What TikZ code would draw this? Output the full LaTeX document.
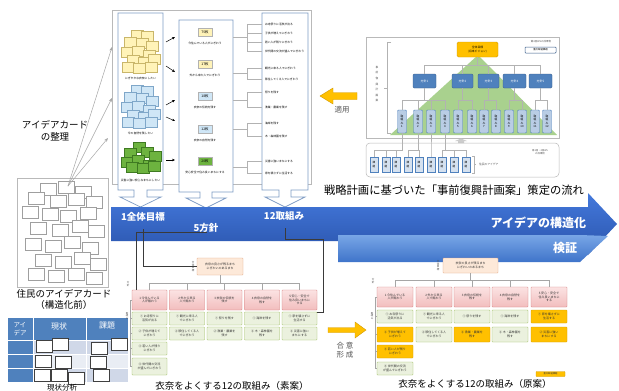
\documentclass[tikz,border=0pt]{standalone}
\usepackage{fontspec}
\setmainfont{Noto Sans CJK JP}
\usetikzlibrary{arrows.meta,calc}
\newcommand\fsz[2]{\fontsize{#1}{#2}\selectfont}
\definecolor{cBandT}{HTML}{4479DC}
\definecolor{cBandB}{HTML}{2A54AC}
\definecolor{cKenT}{HTML}{78A6E6}
\definecolor{cKenB}{HTML}{3F74CA}
\definecolor{cCol}{HTML}{7F9CC4}
\definecolor{cY}{HTML}{FFF3B8}
\definecolor{cYb}{HTML}{C9B66A}
\definecolor{cB}{HTML}{CFE6F6}
\definecolor{cBb}{HTML}{7FA7C9}
\definecolor{cG}{HTML}{6DB33F}
\definecolor{cGb}{HTML}{3F7A22}
\definecolor{cGold}{HTML}{FFC000}
\definecolor{cGoldb}{HTML}{D39B00}
\definecolor{cHbl}{HTML}{4F81BD}
\definecolor{cHblb}{HTML}{385D8A}
\definecolor{cTk}{HTML}{B9CDE5}
\definecolor{cPyr}{HTML}{A9D18E}
\definecolor{cPeach}{HTML}{FDE9D9}
\definecolor{cPeachb}{HTML}{E2A47E}
\definecolor{cPinkL}{HTML}{FBE3E3}
\definecolor{cPink}{HTML}{F2BDBD}
\definecolor{cPinkb}{HTML}{D47C7C}
\definecolor{cLg}{HTML}{EBF1DE}
\definecolor{cLgb}{HTML}{9BBB59}
\definecolor{cRowA}{HTML}{D0D8E8}
\definecolor{cRowB}{HTML}{E9EDF4}
\definecolor{cTxt}{HTML}{555555}
\definecolor{cLine}{HTML}{3A3A3A}
\tikzset{
  pframe/.style={draw=gray!55,line width=0.5pt},
  colbox/.style={draw=cCol,line width=0.7pt,fill=white},
  cardy/.style={fill=cY,draw=cYb,line width=0.3pt},
  cardb/.style={fill=cB,draw=cBb,line width=0.3pt},
  cardg/.style={fill=cG,draw=cGb,line width=0.3pt},
  wcard/.style={fill=white,draw=gray!75,line width=0.4pt},
  tcard/.style={fill=white,draw=black!75,line width=0.45pt},
  tinytext/.style={font=\fsz{2.8}{3.4},align=center},
  tl/.style={draw=gray!60,line width=0.4pt},
  conn/.style={draw=gray!70,line width=0.4pt},
  dline/.style={draw=cLine,line width=0.5pt},
  cntbox/.style={draw=gray!60,line width=0.3pt,minimum width=14pt,minimum height=8.5pt,font=\fsz{3.4}{4}},
  sbase/.style={line width=0.4pt,font=\fsz{3}{3.7},align=center,rounded corners=0.6pt,text=black!80},
  pinkbox/.style={sbase,draw=cPinkb,top color=cPinkL,bottom color=cPink,minimum height=20pt},
  grnbox/.style={sbase,draw=cLgb,fill=cLg},
  orgbox/.style={sbase,draw=cGoldb,fill=cGold},
  topbox/.style={sbase,draw=cPeachb,fill=cPeach},
  hkbox/.style={draw=cHblb,fill=cHbl,rounded corners=1.2pt,line width=0.4pt,text=white,font=\fsz{3}{3.6},minimum height=14pt},
  tkbox/.style={draw=cHbl,fill=cTk,rounded corners=1pt,line width=0.4pt,font=\fsz{2.8}{3.4},align=center,minimum width=9pt,minimum height=23pt},
  kdbox/.style={draw=cHbl,fill=cTk!60,line width=0.3pt,font=\fsz{2.6}{3.2},align=center,minimum width=8pt,minimum height=15pt},
  vlab/.style={font=\fsz{2.5}{2.9},align=center,text=cTxt},
  captext/.style={font=\fsz{9.5}{11.5},align=center},
  bantext/.style={font=\fsz{9.5}{11}\bfseries,text=white},
  garrow/.style={draw=gray!70,line width=0.5pt,-{Stealth[length=4pt,width=3pt]}},
  karrow/.style={draw=black,line width=0.5pt,-{Stealth[length=3pt,width=2.6pt]}},
  oarrow/.style={fill=cGold,draw=cGoldb,line width=0.4pt},
}
\begin{document}
\begin{tikzpicture}[x=1pt,y=-1pt,every node/.style={inner sep=0pt,outer sep=0pt}]
\useasboundingbox (0,0) rectangle (619,391);
\fill[white] (0,0) rectangle (619,391);

%% ================= top-left panel
\draw[pframe] (112,10) rectangle (311,184);
\draw[colbox] (118,13) -- (163,13) -- (163,190) -- (147,190) -- (147,197) -- (161,197) -- (140.5,207) -- (120,197) -- (134,197) -- (134,190) -- (118,190) -- cycle;
\draw[colbox] (179,20) -- (233,20) -- (233,192) -- (212,192) -- (212,198) -- (226,198) -- (206,208) -- (186,198) -- (200,198) -- (200,192) -- (179,192) -- cycle;
\draw[colbox] (262,13) -- (308,13) -- (308,190) -- (291,190) -- (291,197) -- (305,197) -- (285,207) -- (265,197) -- (279,197) -- (279,190) -- (262,190) -- cycle;

\foreach \x/\y in {131/30,141/31,124/37,136/38,146/41,121/47,132/46,143/50,127/55,138/57,148/54,122/62,133/63,145/62}
  \draw[cardy] (\x,\y) rectangle ++(12,10);
\foreach \x/\y in {131/30,141/31,124/37,136/38,146/41,121/47,132/46,143/50,127/55,138/57,148/54,122/62,133/63,145/62}
  \draw[cardb] (\x,\y+55) rectangle ++(12,10);
\foreach \x/\y in {133/142,124/148,141/147,149/151,121/157,132/155,143/160,126/162,137/163,148/161}
  \draw[cardg] (\x,\y) rectangle ++(12,10);
\node[tinytext] (c1a) at (140.5,78) {にぎやかな衣奈にしたい};
\node[tinytext] (c1b) at (140.5,133) {今の自然を残したい};
\node[tinytext] (c1c) at (140.5,180) {災害に強い安心なまちにしたい};

\foreach \n/\y/\c/\t/\s in {1/32/cY/75枚/今住んでいる人がにぎわう,2/64/cY/17枚/外から来た人でにぎわう,3/96/cB/18枚/衣奈の伝統を残す,4/129/cB/12枚/衣奈の自然を残す,5/161/cG/20枚/安心安全で住み良いまちにする}{
  \node[cntbox,fill=\c] (n\n) at (205,\y) {\t};
  \node[tinytext] (ns\n) at (205,\y+11) {\s};
}
\foreach \a/\b/\c/\d in {166/42/175/37,166/66/175/72,166/105/175/100,166/117/175/121,166/160/175/160}
  \draw[karrow] (\a,\b) -- (\c,\d);

\foreach \n/\y/\t in {1/24/お寺祭りに活気が出る,2/33/子供が増えてにぎわう,3/42/若い人が残りにぎわう,4/51/世代間の交流が盛んでにぎわう,5/68/観光に来る人でにぎわう,6/79/移住してくる人でにぎわう,7/92/祭りを残す,8/107/漁業・農業を残す,9/123/海岸を残す,10/136/木・森林園を残す,11/161/災害に強いまちにする,12/173/家を壊さずに生活する}
  \node[tinytext,anchor=west] (it\n) at (265,\y) {\t};
\foreach \m/\a/\b in {37/24/51,73/68/79,100/92/107,129/123/136,167/161/173}{
  \draw[tl] (233,\m) -- (247,\m);
  \draw[tl] (262,\a) -- (247,\a) -- (247,\b) -- (262,\b);
}
\draw[tl] (247,33) -- (262,33);
\draw[tl] (247,42) -- (262,42);

%% ================= left: idea cards
\node[font=\fsz{9.5}{12},align=center] (org) at (55,131) {アイデアカード\\の整理};
\draw[pframe,fill=white] (17,178) rectangle (108,287);
\foreach \x/\y in {40/183,58/181,75/186,28/192,50/195,68/193,86/196,22/206,42/208,60/210,80/207,30/222,52/224,72/220,88/225,25/238,45/240,64/236,82/242,35/254,55/256,74/252,90/258,28/268,48/270,68/268,86/272}
  \draw[wcard] (\x,\y) rectangle ++(16,12);
\coordinate (src) at (68,186);
\coordinate (e1) at (112,47);
\coordinate (e2) at (112,98);
\coordinate (e3) at (108,138);
\draw[garrow] (src) -- (e1);
\draw[garrow] (src) -- (e2);
\draw[garrow] (src) -- (e3);
\node[captext] (cardcap) at (64,299.5) {住民のアイデアカード\\（構造化前）};

%% ================= table
\fill[cHbl] (8,318) rectangle (128,340);
\fill[cHbl] (8,340) rectangle (33,382);
\fill[cRowA] (33,340) rectangle (128,354);
\fill[cRowB] (33,354) rectangle (128,368);
\fill[cRowA] (33,368) rectangle (128,382);
\draw[white,line width=0.8pt] (33,318) -- (33,382) (86,318) -- (86,382) (8,340) -- (128,340) (8,354) -- (128,354) (8,368) -- (128,368);
\node[font=\fsz{6.5}{7.5},text=white,align=left] (th1) at (20,329) {アイ\\デア};
\node[font=\fsz{8}{9},text=white] (th2) at (59,326) {現状};
\node[font=\fsz{8}{9},text=white] (th3) at (107,326) {課題};
\foreach \x/\y in {36/340,52/338,35/355,55/356,34/369,51/369,68/372,91/342,111/338,90/356,93/369}
  \draw[tcard] (\x,\y) rectangle ++(16,12);
\node[font=\fsz{7.5}{8.5},anchor=south] (tabcap) at (62,391) {現状分析};

%% ================= pyramid panel
\draw[pframe] (366,37) rectangle (559,138);
\fill[cPyr] (478,55) -- (557,135) -- (390,135) -- cycle;
\node[draw=cGoldb,fill=cGold,rounded corners=1.5pt,minimum width=41pt,minimum height=15pt,font=\fsz{2.8}{3.6},align=center,line width=0.4pt] (goal) at (477.5,49.5) {全体目標\\(将来ビジョン)};
\node[vlab] (lg1) at (541,42) {第4回WSの成果物};
\node[draw=cHblb,fill=white,minimum width=31pt,minimum height=6pt,font=\fsz{2.4}{2.8},line width=0.5pt,rounded corners=0.8pt] (lg2) at (540.5,50) {重点取組課題};
\foreach \n/\x/\w in {1/424.5/23pt,2/462.5/21pt,3/488.5/21pt,4/514.5/23pt,5/540.5/23pt}
  \node[hkbox,minimum width=\w] (hk\n) at (\x,81) {方針\n};
\foreach \n/\x in {1/402,2/418,3/431,4/445,5/458,6/472,7/484,8/496,9/509,10/522,11/535,12/547}
  \node[tkbox] (tk\n) at (\x,121.5) {取\\組\\み\\\n};
\foreach \i in {1,...,5}
  \draw[tl] (goal.south) -- ++(0,8) -| (hk\i.north);
\foreach \p/\t in {1/1,1/2,1/3,1/4,2/5,2/6,3/7,3/8,4/9,4/10,5/11,5/12}
  \draw[tl] (hk\p.south) -- ++(0,12) -| (tk\t.north);
\draw[tl] (391,42) -- (387,42) -- (387,133) -- (391,133) (387,88) -- (384,88);
\node[vlab,font=\fsz{2.7}{5.6}] (jz) at (377,84) {事\\前\\復\\興\\計\\画\\案};
\fill[gray!40] (458,143) -- (464,143) -- (464,141) -- (467,141) -- (461,138.5) -- (455,141) -- (458,141) -- cycle;

\draw[pframe,rounded corners=4pt] (366,143) rectangle (559,177);
\foreach \n/\x in {1/374,2/386,3/396,4/408,5/419,6/431,7/442,8/454,9/466}
  \node[kdbox] (kd\n) at (\x,164.5) {課\\題};
\foreach \k/\t in {1/1,2/1,3/1,4/2,5/2,6/3,7/4,8/4,9/4}
  \draw[tl] (kd\k.north) |- ($(tk\t.south)+(0,17)$) -- (tk\t.south);
\draw[tl] (472,156) -- (474,156) -- (474,173) -- (472,173) (474,164.5) -- (476,164.5);
\node[vlab,anchor=west,font=\fsz{2.8}{3.3}] (jm) at (479,164.5) {住民のアイデア};
\node[vlab,font=\fsz{2.4}{3}] (lg3) at (540,152) {第1回・2回WS\\の成果物};

%% apply arrow
\draw[oarrow] (357,92.5) -- (333,92.5) -- (333,88) -- (320,96) -- (333,104) -- (333,99.5) -- (357,99.5) -- cycle;
\node[font=\fsz{7.5}{9},text=cTxt] (apply) at (342,110) {適用};

\node[font=\fsz{11.3}{13}] (flow) at (454,190) {戦略計画に基づいた「事前復興計画案」策定の流れ};

%% ================= banner arrows
\shade[top color=cBandT,bottom color=cBandB] (111,207) -- (588,207) -- (588,193) -- (617,224) -- (588,255) -- (588,241) -- (111,241) -- cycle;
\shade[top color=cKenT,bottom color=cKenB] (338,235) -- (580,235) -- (608,236) -- (580,262) -- (338,262) -- cycle;
\node[bantext] (b1) at (143,217) {1全体目標};
\node[bantext] (b2) at (206,228) {5方針};
\node[bantext] (b3) at (284,216) {12取組み};
\node[font=\fsz{12}{14}\bfseries,text=white,anchor=east] (b4) at (586,223) {アイデアの構造化};
\node[font=\fsz{12}{14}\bfseries,text=white] (b5) at (565,248) {検証};

%% ================= bottom centre (draft)
\node[topbox,minimum width=46pt,minimum height=17pt] (st) at (220,266.5) {衣奈の良さが残るまち\\にぎわいのあるまち};
\foreach \n/\x/\t in {1/149.5/{1 今住んでいる\\人が賑わう},2/187/{2 外から来る\\人で賑わう},3/224.5/{3 衣奈の伝統を\\残す},4/262/{4 衣奈の自然を\\残す},5/299.5/{5 安心・安全で\\住み良いまちに\\する}}
  \node[pinkbox,minimum width=35pt] (sp\n) at (\x,300) {\t};
\foreach \n/\x/\t in {1/149.5/{① お寺祭りに\\活気が出る},2/187/{① 観光に来る人\\でにぎわう},3/224.5/{① 祭りを残す},4/262/{① 海岸を残す},5/299.5/{① 家を壊さずに\\生活する}}
  \node[grnbox,minimum width=35pt,minimum height=13pt] (sa\n) at (\x,318.5) {\t};
\foreach \n/\x/\t in {1/149.5/{② 子供が増えて\\にぎわう},2/187/{② 移住してくる人\\でにぎわう},3/224.5/{② 漁業・農業を\\残す},4/262/{② 木・森林園を\\残す},5/299.5/{② 災害に強い\\まちにする}}
  \node[grnbox,minimum width=35pt,minimum height=13pt] (sb\n) at (\x,333.5) {\t};
\node[grnbox,minimum width=35pt,minimum height=13pt] (sc1) at (149.5,348.5) {③ 若い人が残り\\にぎわう};
\node[grnbox,minimum width=35pt,minimum height=17pt] (sd1) at (149.5,366.5) {④ 世代間の交流\\が盛んでにぎわう};
\foreach \i in {1,...,5}
  \draw[conn] (st.south) -- ++(0,8) -| (sp\i.north);
\draw[conn] (sp1.west) -- ++(-2,0) |- (sd1.west);
\draw[conn] (sa1.west) -- ++(-2,0) (sb1.west) -- ++(-2,0) (sc1.west) -- ++(-2,0);
\node[vlab] (sl1) at (193,266.5) {全\\体\\目\\標};
\node[vlab] (sl2) at (128,284) {方\\針};
\node[vlab] (sl3) at (127,316) {取\\組\\み};
\node[captext,anchor=north] (scap) at (232,381) {衣奈をよくする12の取組み（素案）};

%% connectors from banner labels
\coordinate (zt) at (143,229);
\coordinate (hs) at (207,232);
\coordinate (tkc) at (285,228);
\draw[dline] (zt) |- (st.west);
\draw[dline] (hs) -| ([xshift=4pt]sp1.north west);
\draw[dline] (tkc) -- ++(0,11) -- ++(38,0) |- (sa5.north east);

%% ================= bottom right (proposal)
\draw[oarrow] (328,327.5) -- (355,327.5) -- (355,322) -- (366,330) -- (355,338) -- (355,332.5) -- (328,332.5) -- cycle;
\node[font=\fsz{7.5}{9.5},text=cTxt,align=center] (agree) at (345,350) {合 意\\形 成};
\node[topbox,minimum width=55pt,minimum height=15pt] (rt) at (470.5,265.5) {衣奈の良さが残るまち\\にぎわいのあるまち};
\foreach \n/\x/\t in {1/395/{1 今住んでいる\\人が賑わう},2/434/{2 外から来る\\人で賑わう},3/472/{3 衣奈の伝統を\\残す},4/510/{4 衣奈の自然を\\残す},5/549/{5 安心・安全で\\住み良いまちに\\する}}
  \node[pinkbox,minimum width=36pt] (rp\n) at (\x,297) {\t};
\foreach \n/\x/\s/\t in {1/395/grnbox/{① お寺祭りに\\活気が出る},2/434/grnbox/{① 観光に来る人\\でにぎわう},3/472/grnbox/{① 祭りを残す},4/510/grnbox/{① 海岸を残す},5/549/orgbox/{① 家を壊さずに\\生活する}}
  \node[\s,minimum width=36pt,minimum height=13pt] (ra\n) at (\x,316.5) {\t};
\foreach \n/\x/\s/\t in {1/395/orgbox/{② 子供が増えて\\にぎわう},2/434/grnbox/{② 移住してくる人\\でにぎわう},3/472/orgbox/{② 漁業・農業を\\残す},4/510/grnbox/{② 木・森林園を\\残す},5/549/orgbox/{② 災害に強い\\まちにする}}
  \node[\s,minimum width=36pt,minimum height=15pt] (rb\n) at (\x,334.5) {\t};
\node[orgbox,minimum width=36pt,minimum height=13pt] (rc1) at (395,351.5) {③ 若い人が残り\\にぎわう};
\node[grnbox,minimum width=36pt,minimum height=13pt] (rd1) at (395,368.5) {④ 世代間の交流\\が盛んでにぎわう};
\foreach \i in {1,...,5}
  \draw[conn] (rt.south) -- ++(0,7) -| (rp\i.north);
\draw[conn] (rp1.west) -- ++(-2,0) |- (rd1.west);
\draw[conn] (ra1.west) -- ++(-2,0) (rb1.west) -- ++(-2,0) (rc1.west) -- ++(-2,0);
\node[vlab] (rl1) at (438,265.5) {全\\体\\目\\標};
\node[vlab] (rl2) at (373,281) {方\\針};
\node[vlab] (rl3) at (372,316) {取\\組\\み};
\node[orgbox,minimum width=29pt,minimum height=5pt,font=\fsz{2.3}{2.6}] (rleg) at (550.5,374) {重点取組課題};
\node[captext,anchor=north] (rcap) at (475,379) {衣奈をよくする12の取組み（原案）};

\end{tikzpicture}
\end{document}
